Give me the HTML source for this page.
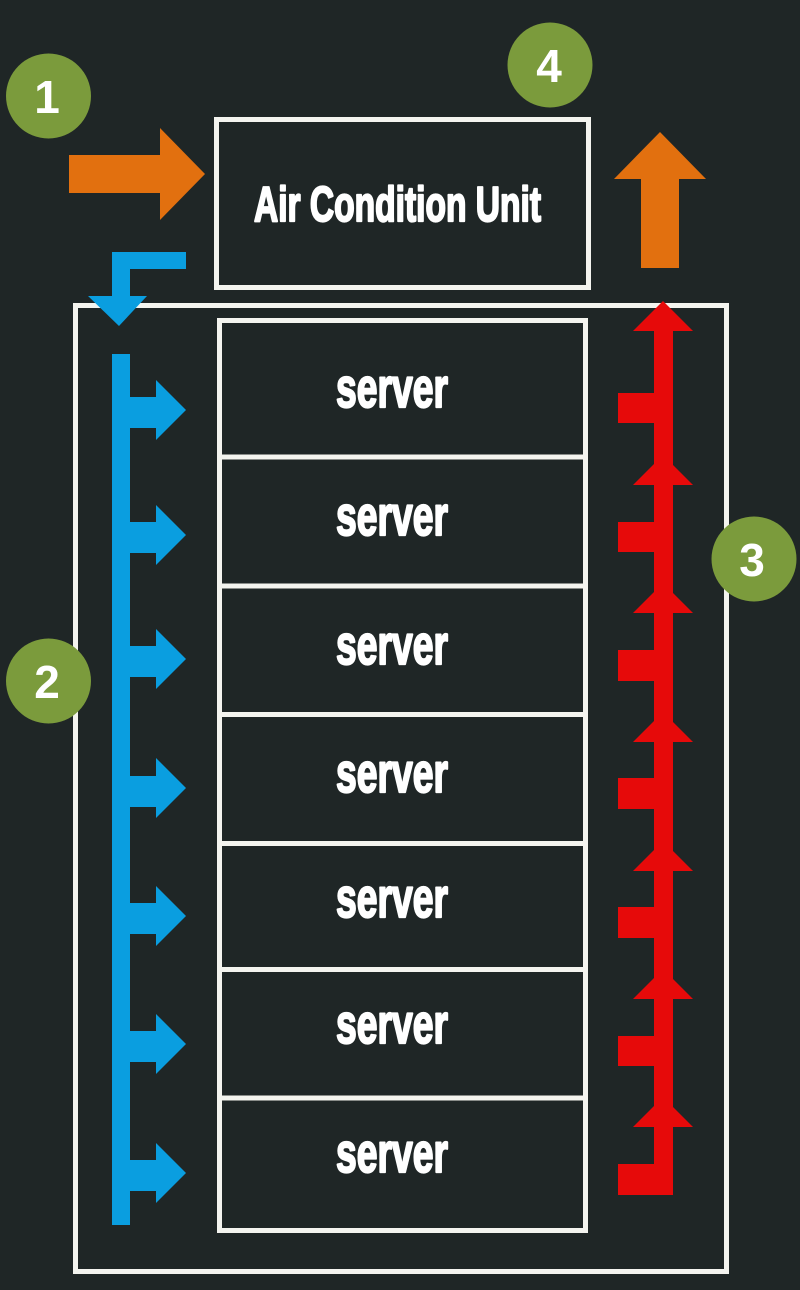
<!DOCTYPE html>
<html>
<head>
<meta charset="utf-8">
<style>
  html, body { margin: 0; padding: 0; background: #1f2626; }
  svg { display: block; }
</style>
</head>
<body>
<svg width="800" height="1290" viewBox="0 0 800 1290" xmlns="http://www.w3.org/2000/svg">
  <rect x="0" y="0" width="800" height="1290" fill="#1f2626"/>

  <!-- outer rack box -->
  <rect x="75.5" y="305.5" width="651" height="966" fill="none" stroke="#f4f4ef" stroke-width="5"/>

  <!-- Air condition unit box -->
  <rect x="216.5" y="119.5" width="372" height="168" fill="none" stroke="#f4f4ef" stroke-width="5"/>
  <text x="254" y="221" font-family="'Liberation Sans', sans-serif" font-weight="bold" font-size="49" fill="#ffffff" stroke="#ffffff" stroke-width="2.2" stroke-linejoin="round" textLength="287" lengthAdjust="spacingAndGlyphs">Air Condition Unit</text>

  <!-- server stack -->
  <rect x="219.5" y="320.5" width="366" height="910" fill="none" stroke="#f4f4ef" stroke-width="5"/>
  <g stroke="#f4f4ef" stroke-width="5">
    <line x1="217" y1="457" x2="588" y2="457"/>
    <line x1="217" y1="586" x2="588" y2="586"/>
    <line x1="217" y1="714.5" x2="588" y2="714.5"/>
    <line x1="217" y1="843.5" x2="588" y2="843.5"/>
    <line x1="217" y1="969.5" x2="588" y2="969.5"/>
    <line x1="217" y1="1098" x2="588" y2="1098"/>
  </g>
  <g font-family="'Liberation Sans', sans-serif" font-weight="bold" font-size="56" fill="#ffffff" stroke="#ffffff" stroke-width="2.2" stroke-linejoin="round">
    <text x="336" y="407" textLength="112" lengthAdjust="spacingAndGlyphs">server</text>
    <text x="336" y="535" textLength="112" lengthAdjust="spacingAndGlyphs">server</text>
    <text x="336" y="664" textLength="112" lengthAdjust="spacingAndGlyphs">server</text>
    <text x="336" y="792" textLength="112" lengthAdjust="spacingAndGlyphs">server</text>
    <text x="336" y="917" textLength="112" lengthAdjust="spacingAndGlyphs">server</text>
    <text x="336" y="1043" textLength="112" lengthAdjust="spacingAndGlyphs">server</text>
    <text x="336" y="1172" textLength="112" lengthAdjust="spacingAndGlyphs">server</text>
  </g>

  <!-- orange right arrow -->
  <polygon points="69,155 160,155 160,128 205,174 160,220 160,193 69,193" fill="#e2700f"/>
  <!-- orange up arrow -->
  <polygon points="641,268 641,179 614,179 660,132 706,179 679,179 679,268" fill="#e2700f"/>

  <!-- blue bent arrow from AC -->
  <polygon points="186,252 186,269 130,269 130,296 147,296 119,326 88,296 112,296 112,252" fill="#0a9ee0"/>

  <!-- blue supply line -->
  <g fill="#0a9ee0">
    <rect x="112" y="354" width="18" height="871"/>
    <rect x="128" y="397" width="30" height="31"/><polygon points="156,380 186,410 156,440"/>
    <rect x="128" y="522" width="30" height="31"/><polygon points="156,505 186,535 156,565"/>
    <rect x="128" y="646" width="30" height="31"/><polygon points="156,629 186,659 156,689"/>
    <rect x="128" y="776" width="30" height="31"/><polygon points="156,758 186,788 156,818"/>
    <rect x="128" y="903" width="30" height="31"/><polygon points="156,886 186,916 156,946"/>
    <rect x="128" y="1031" width="30" height="31"/><polygon points="156,1014 186,1044 156,1074"/>
    <rect x="128" y="1160" width="30" height="31"/><polygon points="156,1143 186,1173 156,1203"/>
  </g>

  <!-- red exhaust line -->
  <g fill="#e60a0a">
    <rect x="654" y="318" width="19" height="877"/>
    <polygon points="633,331 663,301 693,331"/>
    <polygon points="633,485 663,455 693,485"/>
    <polygon points="633,613 663,583 693,613"/>
    <polygon points="633,742 663,712 693,742"/>
    <polygon points="633,871 663,841 693,871"/>
    <polygon points="633,999 663,969 693,999"/>
    <polygon points="633,1127 663,1097 693,1127"/>
    <rect x="618" y="393" width="38" height="30"/>
    <rect x="618" y="522" width="38" height="30"/>
    <rect x="618" y="650" width="38" height="31"/>
    <rect x="618" y="778" width="38" height="31"/>
    <rect x="618" y="907" width="38" height="31"/>
    <rect x="618" y="1036" width="38" height="30"/>
    <rect x="618" y="1164" width="38" height="31"/>
  </g>

  <!-- number badges -->
  <g fill="#7b9b3c">
    <circle cx="48.5" cy="96" r="42.5"/>
    <circle cx="550" cy="65" r="42.5"/>
    <circle cx="754" cy="559" r="42.5"/>
    <circle cx="48.5" cy="681" r="42.5"/>
  </g>
  <g font-family="'Liberation Sans', sans-serif" font-weight="bold" font-size="46" fill="#ffffff" text-anchor="middle">
    <text x="47" y="113">1</text>
    <text x="549" y="82">4</text>
    <text x="752" y="576">3</text>
    <text x="47" y="698">2</text>
  </g>
</svg>
</body>
</html>
